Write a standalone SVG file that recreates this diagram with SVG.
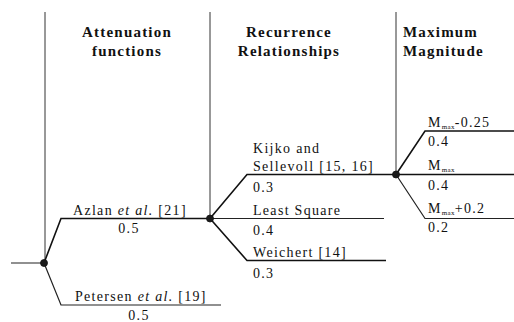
<svg xmlns="http://www.w3.org/2000/svg" width="514" height="322" viewBox="0 0 514 322">
<style>
  .hdr { font-family: "Liberation Serif", "Times New Roman", serif; font-weight: bold; font-size: 15px; letter-spacing: 1.2px; fill: #111; }
  .lbl { font-family: "Liberation Serif", "Times New Roman", serif; font-size: 14px; letter-spacing: 1.3px; fill: #111; }
  .sub { font-size: 7px; letter-spacing: 0.3px; }
  .div { stroke: #333; stroke-width: 1; fill: none; }
  .br { stroke: #111; stroke-width: 1.6; fill: none; }
  .brd { stroke: #222; stroke-width: 1.2; fill: none; }
  .node { fill: #1a1a1a; stroke: #111; stroke-width: 0.8; }
</style>
<rect width="514" height="322" fill="#ffffff"/>

<g id="headers">
  <text class="hdr" x="127" y="37" text-anchor="middle">Attenuation</text>
  <text class="hdr" x="127" y="56" text-anchor="middle">functions</text>
  <text class="hdr" x="289" y="37" text-anchor="middle">Recurrence</text>
  <text class="hdr" x="289" y="56" text-anchor="middle">Relationships</text>
  <text class="hdr" x="403" y="37">Maximum</text>
  <text class="hdr" x="403" y="56">Magnitude</text>
</g>

<g id="connectors">
  <line class="div" x1="45" y1="12" x2="45" y2="263"/>
  <line class="div" x1="210" y1="12" x2="210" y2="218"/>
  <line class="div" x1="396" y1="12" x2="396" y2="174.5"/>
  <line class="brd" x1="11" y1="263" x2="44" y2="263"/>
  <polyline class="br" points="44,263 61,218.5 210,218.5"/>
  <polyline class="brd" points="44,263 61,305 221,305"/>
  <polyline class="br" points="210,218.5 247,174.5 396,174.5"/>
  <line class="brd" x1="210" y1="218.5" x2="384" y2="218.5"/>
  <polyline class="br" points="210,218.5 247,260.5 386,260.5"/>
  <polyline class="br" points="396,174.5 425,131 514,131"/>
  <line class="br" x1="396" y1="174.5" x2="514" y2="174.5"/>
  <polyline class="brd" points="396,174.5 425,218.5 514,218.5"/>
</g>

<g id="node-root">
  <circle class="node" cx="44" cy="263" r="3.5"/>
</g>
<g id="node-azlan">
  <circle class="node" cx="210" cy="218.5" r="3.5"/>
  <text class="lbl" x="73" y="215">Azlan <tspan font-style="italic">et al.</tspan> [21]</text>
  <text class="lbl" x="129" y="233" text-anchor="middle">0.5</text>
</g>
<g id="node-petersen">
  <text class="lbl" x="75" y="301">Petersen <tspan font-style="italic">et al.</tspan> [19]</text>
  <text class="lbl" x="139" y="320" text-anchor="middle">0.5</text>
</g>
<g id="node-kijko">
  <circle class="node" cx="396" cy="174.5" r="3.5"/>
  <text class="lbl" x="253" y="153">Kijko and</text>
  <text class="lbl" x="253" y="170.5">Sellevoll [15, 16]</text>
  <text class="lbl" x="253" y="191.5">0.3</text>
</g>
<g id="node-least-square">
  <text class="lbl" x="253" y="214.5">Least Square</text>
  <text class="lbl" x="253" y="235">0.4</text>
</g>
<g id="node-weichert">
  <text class="lbl" x="253" y="257">Weichert [14]</text>
  <text class="lbl" x="253" y="278">0.3</text>
</g>
<g id="node-mmax-minus">
  <text class="lbl" x="428" y="127">M<tspan class="sub" dy="2">max</tspan><tspan dy="-2">-0.25</tspan></text>
  <text class="lbl" x="428" y="146">0.4</text>
</g>
<g id="node-mmax">
  <text class="lbl" x="428" y="170">M<tspan class="sub" dy="2">max</tspan></text>
  <text class="lbl" x="428" y="190">0.4</text>
</g>
<g id="node-mmax-plus">
  <text class="lbl" x="428" y="213">M<tspan class="sub" dy="2">max</tspan><tspan dy="-2">+0.2</tspan></text>
  <text class="lbl" x="428" y="232">0.2</text>
</g>
</svg>
